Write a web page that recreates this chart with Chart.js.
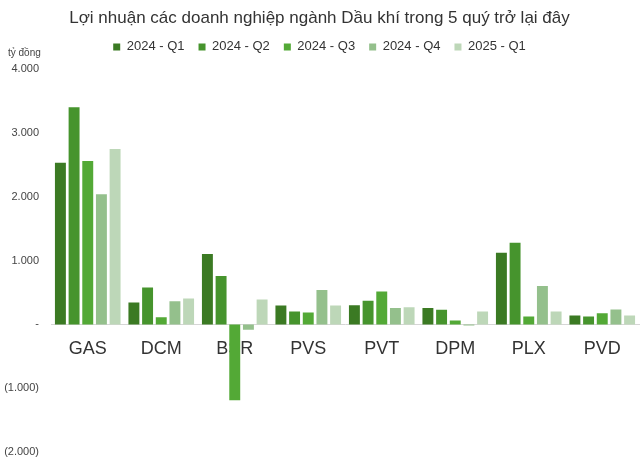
<!DOCTYPE html>
<html><head><meta charset="utf-8">
<script src="https://cdn.jsdelivr.net/npm/chart.js@4/dist/chart.umd.min.js"></script>
<style>html,body{margin:0;padding:0;background:#fff}#wrap{width:640px;height:463px;position:relative}</style>
</head><body><div id="wrap"><canvas id="c" width="640" height="463"></canvas></div>
<script>
const categories = ["GAS","DCM","BSR","PVS","PVT","DPM","PLX","PVD"];
const seriesNames = ["2024 - Q1","2024 - Q2","2024 - Q3","2024 - Q4","2025 - Q1"];
const q1_2024 = [2536, 344, 1105, 297, 302, 260, 1125, 141];
const q2_2024 = [3406, 578, 761, 203, 370, 229, 1281, 125];
const q3_2024 = [2562, 114, -1190, 188, 516, 62, 125, 177];
const q4_2024 = [2042, 364, -83, 542, 260, -16, 604, 234];
const q1_2025 = [2750, 406, 390, 297, 270, 203, 203, 141];
const colors = ["#3b7a23","#46942d","#53a936","#94c08c","#bdd7b8"];
const seriesValues = [q1_2024, q2_2024, q3_2024, q4_2024, q1_2025];
const titleText = 'Lợi nhuận các doanh nghiệp ngành Dầu khí trong 5 quý trở lại đây';
const REG = '"Liberation Sans", Arial, sans-serif';

const extras = {
  id: 'extras',
  afterInit(chart) {
    const l = chart.legend;
    if (l && !l._patched) {
      const f = l.fit;
      l.fit = function () { f.call(this); this.height += 6; };
      l._patched = true;
    }
  },
  afterDraw(chart) {
    const ctx = chart.ctx;
    ctx.save();
    ctx.font = '10px ' + REG;
    ctx.fillStyle = '#444';
    ctx.textBaseline = 'middle';
    ctx.fillText('tỷ đồng', 8, 53);
    ctx.restore();
  }
};

new Chart(document.getElementById('c'), {
  type: 'bar',
  data: {
    labels: categories,
    datasets: seriesNames.map((n, i) => ({
      label: n, data: seriesValues[i], backgroundColor: colors[i],
      barPercentage: 0.8, categoryPercentage: 0.93
    }))
  },
  options: {
    responsive: false, animation: false,
    layout: { padding: { top: 0, right: 1, bottom: 0, left: 0 } },
    font: { family: REG },
    plugins: {
      title: { display: true, text: titleText, color: '#333',
        font: { size: 17, weight: 'normal', family: REG }, padding: { top: 8, bottom: -2 } },
      legend: { labels: { boxWidth: 7, boxHeight: 7, color: '#333', padding: 14,
        font: { size: 13, family: REG } } },
      tooltip: { enabled: false }
    },
    scales: {
      x: { position: { y: 0 }, grid: { display: false, drawTicks: false },
        afterFit(s) { s.height = 0; },
        border: { color: '#d6d6d6', width: 1 },
        ticks: { color: '#333', padding: 14, font: { size: 18, family: REG } } },
      y: { min: -2000, max: 4000, grid: { display: false, drawTicks: false }, border: { display: false },
        afterFit(s) { s.width = 51; s.paddingTop = 0; s.paddingBottom = 11; },
        ticks: { stepSize: 1000, color: '#444', padding: 12, font: { size: 11, family: REG },
          callback(v) {
            if (v === 0) return '-';
            const s = Math.abs(v).toLocaleString('de-DE');
            return v < 0 ? '(' + s + ')' : s;
          } } }
    }
  },
  plugins: [extras]
});
</script></body></html>
